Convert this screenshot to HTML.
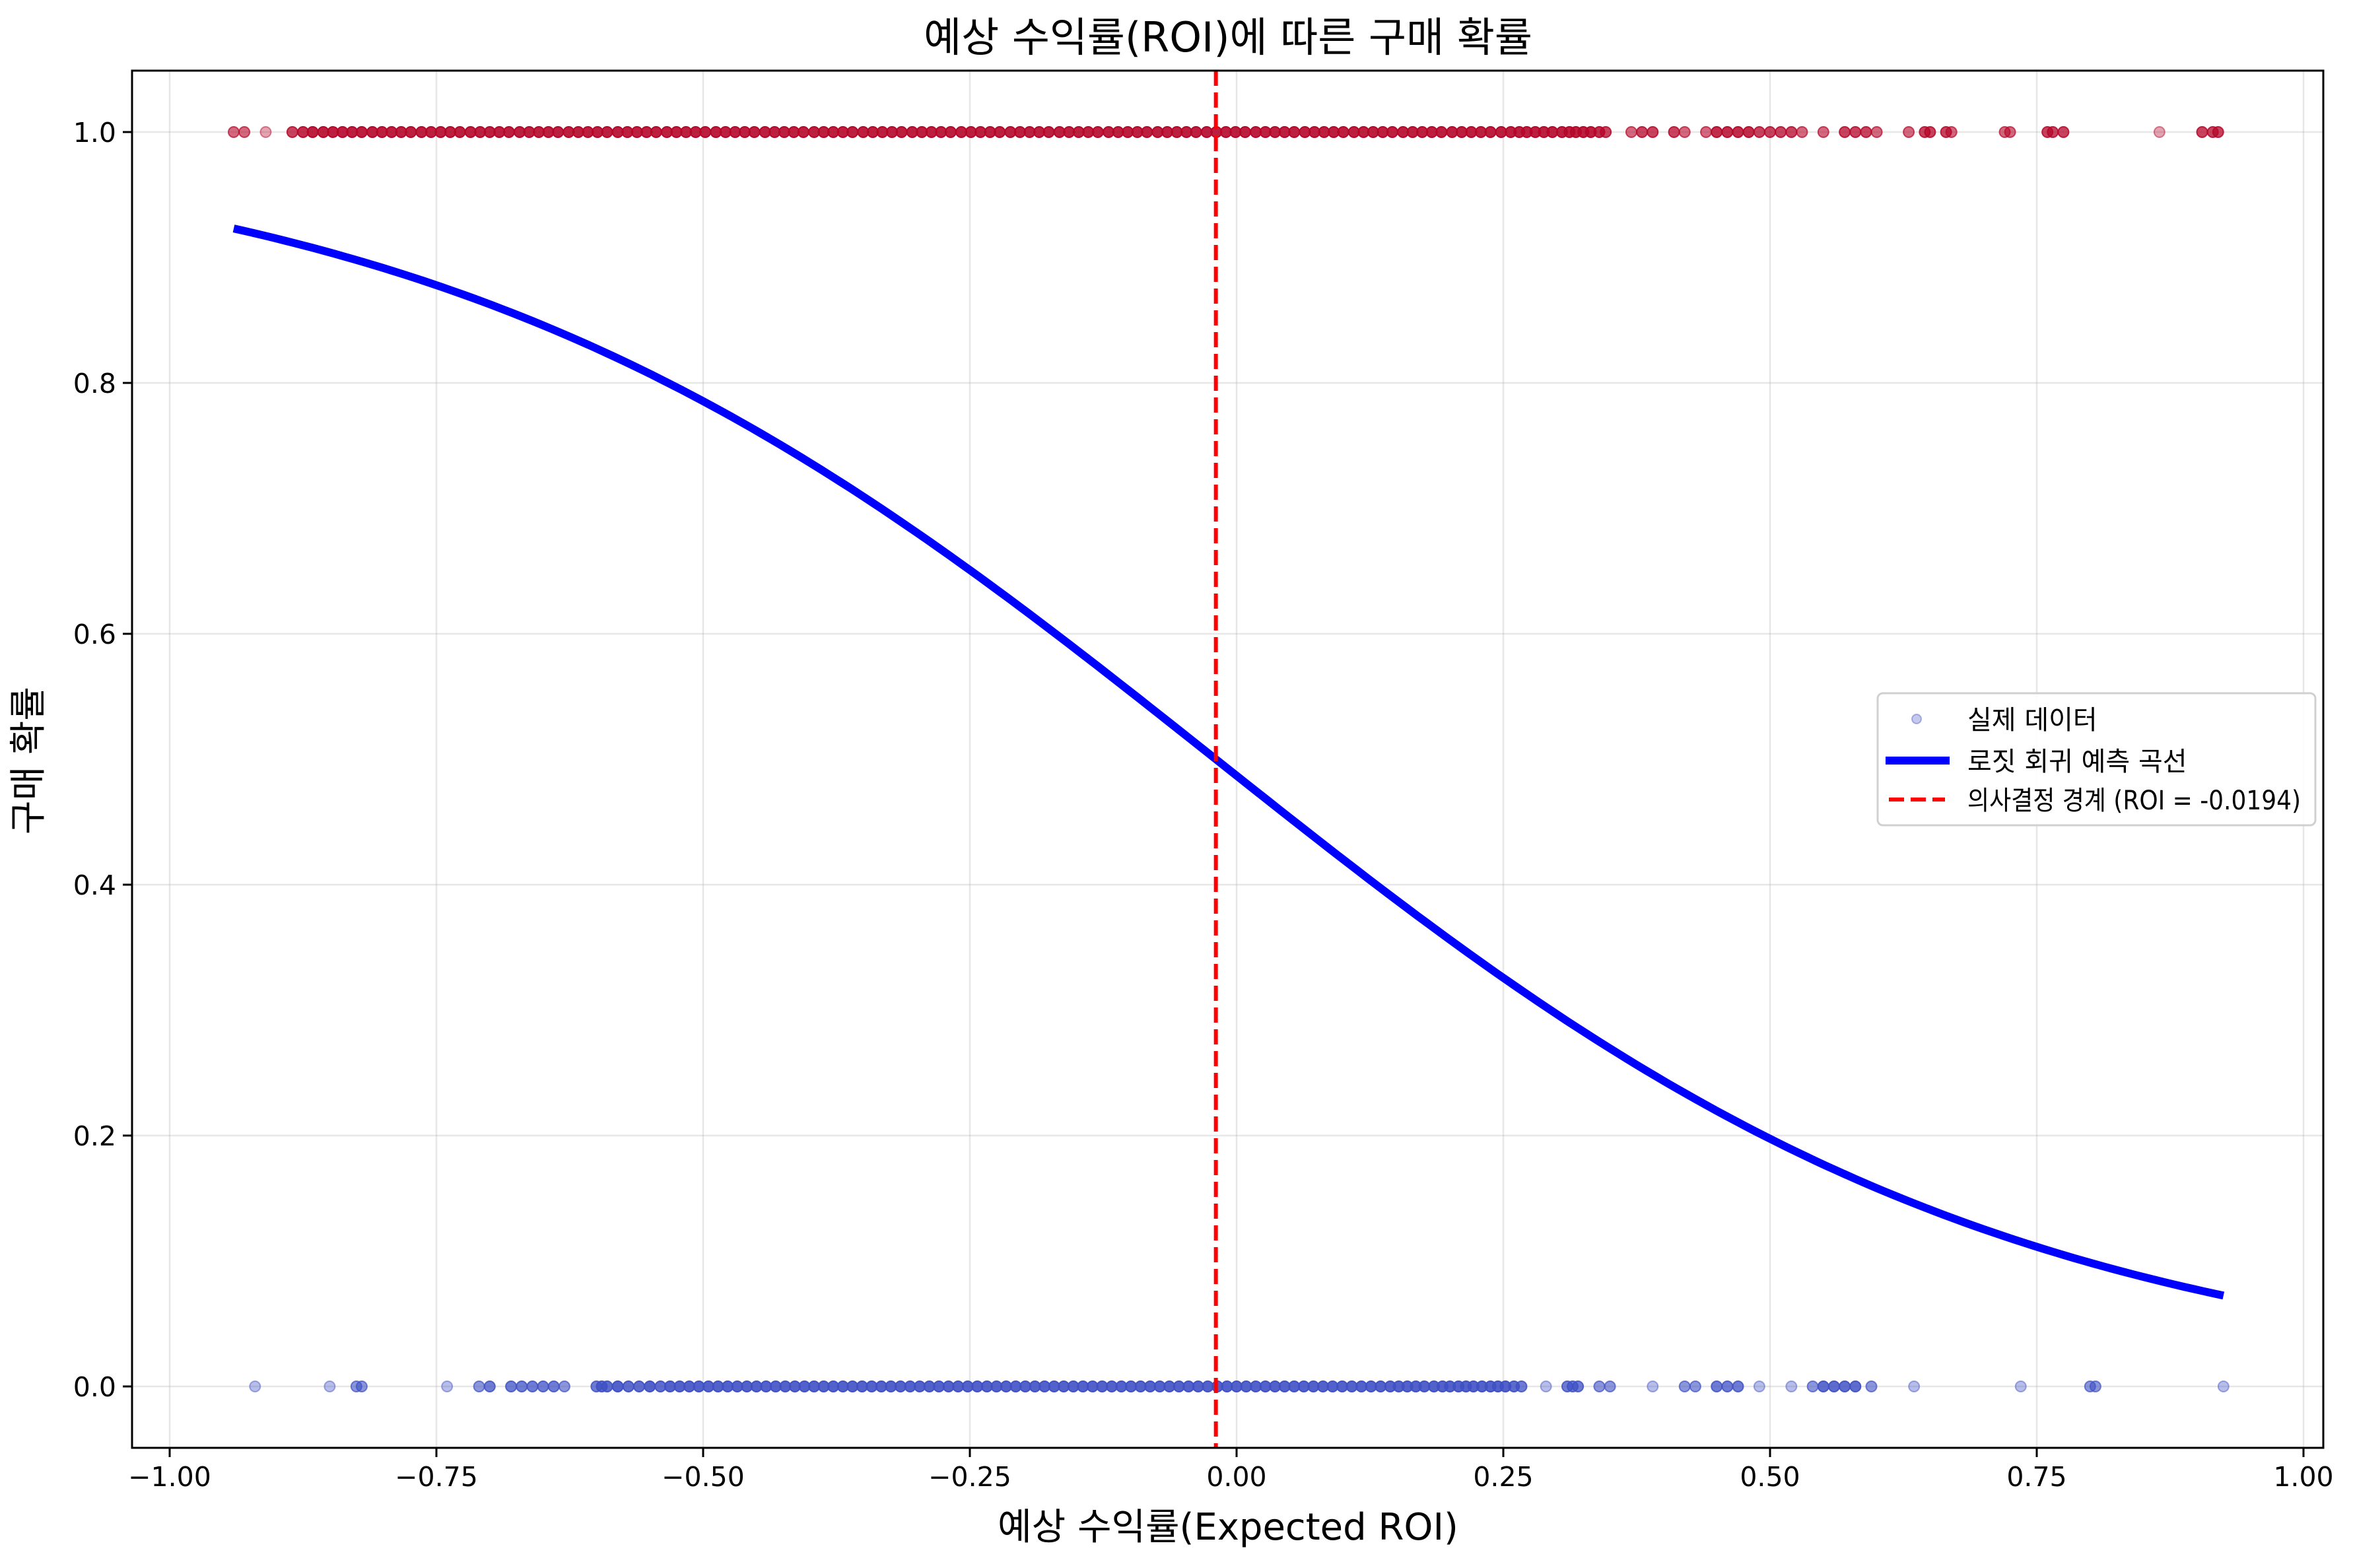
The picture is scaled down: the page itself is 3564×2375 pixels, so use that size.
<!DOCTYPE html>
<html><head><meta charset="utf-8"><style>
html,body{margin:0;padding:0;background:#fff;}
svg text{font-family:"DejaVu Sans","Liberation Sans","Noto Sans CJK KR",sans-serif;}
</style></head><body>
<svg id="chart" width="3564" height="2370" viewBox="0 0 3564 2370" xmlns="http://www.w3.org/2000/svg">
<rect x="0" y="0" width="3564" height="2370" fill="#fff"/>
<g id="grid"></g>
<g id="points"></g>
<g id="curve"></g>
<g id="thresh"></g>
<rect x="200" y="107" width="3319" height="2086" fill="none" stroke="#000" stroke-width="3"/>
<g id="ticks"></g>
<text x="1860" y="78" font-size="62" text-anchor="middle">예상 수익률(ROI)에 따른 구매 확률</text>
<text x="1860" y="2332" font-size="56" text-anchor="middle">예상 수익률(Expected ROI)</text>
<text transform="translate(62,1152) rotate(-90)" font-size="56" text-anchor="middle">구매 확률</text>
<g>
<rect x="2844" y="1050" width="663" height="200" rx="8" fill="#fff" fill-opacity="0.85" stroke="#d0d0d0" stroke-width="3"/>
<circle cx="2903" cy="1089" r="7" fill="#3f51c4" fill-opacity="0.3" stroke="#3f51c4" stroke-opacity="0.4" stroke-width="2"/>
<text x="2980" y="1104" font-size="40">실제 데이터</text>
<line x1="2856" y1="1152" x2="2953" y2="1152" stroke="#0000ff" stroke-width="12"/>
<text x="2980" y="1167" font-size="40">로짓 회귀 예측 곡선</text>
<line x1="2861" y1="1211" x2="2946" y2="1211" stroke="#ff0000" stroke-width="6" stroke-dasharray="23,10"/>
<text x="2980" y="1226" font-size="40" textLength="505" lengthAdjust="spacingAndGlyphs">의사결정 경계 (ROI = -0.0194)</text>
</g>
</svg>
<script>
const xTicks=[-1,-0.75,-0.5,-0.25,0,0.25,0.5,0.75,1];
const xTickLabels=["−1.00","−0.75","−0.50","−0.25","0.00","0.25","0.50","0.75","1.00"];
const yTicks=[0,0.2,0.4,0.6,0.8,1.0];
const yTickLabels=["0.0","0.2","0.4","0.6","0.8","1.0"];
const threshold=-0.0194;
const slope=2.7;
const curveRange=[-0.94,0.925];
const purchasedX=[-0.94,-0.93,-0.91,-0.885,-0.875,-0.866,-0.856,-0.847,-0.838,-0.829,-0.82,-0.81,-0.801,-0.792,-0.783,-0.774,-0.764,-0.755,-0.746,-0.737,-0.728,-0.718,-0.709,-0.7,-0.691,-0.682,-0.672,-0.663,-0.654,-0.645,-0.636,-0.626,-0.617,-0.608,-0.599,-0.59,-0.58,-0.571,-0.562,-0.553,-0.544,-0.534,-0.525,-0.516,-0.507,-0.498,-0.488,-0.479,-0.47,-0.461,-0.452,-0.442,-0.433,-0.424,-0.415,-0.406,-0.396,-0.387,-0.378,-0.369,-0.36,-0.35,-0.341,-0.332,-0.323,-0.314,-0.304,-0.295,-0.286,-0.277,-0.268,-0.258,-0.249,-0.24,-0.231,-0.222,-0.212,-0.203,-0.194,-0.185,-0.176,-0.166,-0.157,-0.148,-0.139,-0.13,-0.12,-0.111,-0.102,-0.093,-0.084,-0.074,-0.065,-0.056,-0.047,-0.038,-0.028,-0.019,-0.01,-0.001,0.008,0.018,0.027,0.036,0.045,0.054,0.064,0.073,0.082,0.091,0.1,0.11,0.119,0.128,0.137,0.146,0.156,0.165,0.174,0.183,0.192,0.202,0.211,0.22,0.229,0.238,0.248,0.257,0.265,0.272,0.28,0.288,0.296,0.305,0.312,0.318,0.325,0.332,0.34,0.346,0.37,0.38,0.39,0.41,0.42,0.44,0.45,0.46,0.47,0.48,0.49,0.5,0.51,0.52,0.53,0.55,0.57,0.58,0.59,0.6,0.63,0.645,0.65,0.665,0.67,0.72,0.725,0.76,0.765,0.775,0.865,0.905,0.915,0.92];
const notPurchasedX=[-0.92,-0.85,-0.825,-0.82,-0.74,-0.71,-0.7,-0.68,-0.67,-0.66,-0.65,-0.64,-0.63,-0.6,-0.595,-0.59,-0.58,-0.57,-0.56,-0.55,-0.54,-0.531,-0.522,-0.513,-0.504,-0.495,-0.486,-0.477,-0.468,-0.459,-0.45,-0.441,-0.432,-0.423,-0.414,-0.405,-0.396,-0.387,-0.378,-0.369,-0.36,-0.351,-0.342,-0.333,-0.324,-0.315,-0.306,-0.297,-0.288,-0.279,-0.27,-0.261,-0.252,-0.243,-0.234,-0.225,-0.216,-0.207,-0.198,-0.189,-0.18,-0.171,-0.162,-0.153,-0.144,-0.135,-0.126,-0.117,-0.108,-0.099,-0.09,-0.081,-0.072,-0.063,-0.054,-0.045,-0.036,-0.027,-0.018,-0.009,0,0.009,0.018,0.027,0.036,0.045,0.054,0.063,0.072,0.081,0.09,0.099,0.108,0.117,0.126,0.135,0.144,0.152,0.16,0.168,0.176,0.185,0.193,0.2,0.208,0.215,0.222,0.23,0.238,0.245,0.252,0.26,0.267,0.29,0.31,0.315,0.32,0.34,0.35,0.39,0.42,0.43,0.45,0.46,0.47,0.49,0.52,0.54,0.55,0.56,0.57,0.58,0.595,0.635,0.735,0.8,0.805,0.925];

const NS='http://www.w3.org/2000/svg';
const X0=200,X1=3519,Y0=107,Y1=2193;
function xs(v){return 1873+v*1616;}
function ys(v){return 2100-v*1900;}
function mk(tag,attrs,parent){const e=document.createElementNS(NS,tag);for(const k in attrs)e.setAttribute(k,attrs[k]);parent.appendChild(e);return e;}
function density(arr,v){let n=0;arr.forEach(o=>{if(Math.abs(o-v)<0.02)n++;});return 1-Math.pow(0.7,n*1.3);}
const grid=document.getElementById('grid'),ticks=document.getElementById('ticks');
xTicks.forEach((t,i)=>{
 const g=mk('line',{x1:xs(t),x2:xs(t),y1:Y0,y2:Y1,stroke:'#b0b0b0','stroke-opacity':0.3,'stroke-width':2.5},grid);
 
 
 const tk=mk('line',{x1:xs(t),x2:xs(t),y1:Y1,y2:Y1+14,stroke:'#000','stroke-width':3},ticks);
 
 
 const tl=mk('text',{x:xs(t),y:Y1+58,'font-size':41,'text-anchor':'middle'},ticks);
 tl.textContent=xTickLabels[i];
 
 
});
yTicks.forEach((t,i)=>{
 const g=mk('line',{x1:X0,x2:X1,y1:ys(t),y2:ys(t),stroke:'#b0b0b0','stroke-opacity':0.3,'stroke-width':2.5},grid);
 
 
 const tk=mk('line',{x1:X0-14,x2:X0,y1:ys(t),y2:ys(t),stroke:'#000','stroke-width':3},ticks);
 
 
 const tl=mk('text',{x:X0-24,y:ys(t)+15,'font-size':41,'text-anchor':'end'},ticks);
 tl.textContent=yTickLabels[i];
 
 
});
const pts=document.getElementById('points');
notPurchasedX.forEach(v=>{
 const a=Math.max(0.3,density(notPurchasedX,v));
 const c=mk('circle',{cx:xs(v),cy:ys(0),r:8,fill:'#3f51c4','fill-opacity':a,stroke:'#3f51c4','stroke-opacity':Math.min(1,a+0.1),'stroke-width':2},pts);
 
 
});
purchasedX.forEach(v=>{
 const a=Math.max(0.3,density(purchasedX,v));
 const c=mk('circle',{cx:xs(v),cy:ys(1),r:8,fill:'#b5072a','fill-opacity':a,stroke:'#b5072a','stroke-opacity':Math.min(1,a+0.1),'stroke-width':2},pts);
 
 
});
let d='';
for(let i=0;i<=200;i++){const v=curveRange[0]+(curveRange[1]-curveRange[0])*i/200;const p=1/(1+Math.exp(slope*(v-threshold)));d+=(i?'L':'M')+xs(v).toFixed(1)+','+ys(p).toFixed(1);}
const cp=mk('path',{d:d,fill:'none',stroke:'#0000ff','stroke-width':12,'stroke-linejoin':'round'},document.getElementById('curve'));


const tl=mk('line',{x1:xs(threshold),x2:xs(threshold),y1:Y0,y2:Y1,stroke:'#ff0000','stroke-width':6,'stroke-dasharray':'23,10'},document.getElementById('thresh'));


</script>
</body></html>
